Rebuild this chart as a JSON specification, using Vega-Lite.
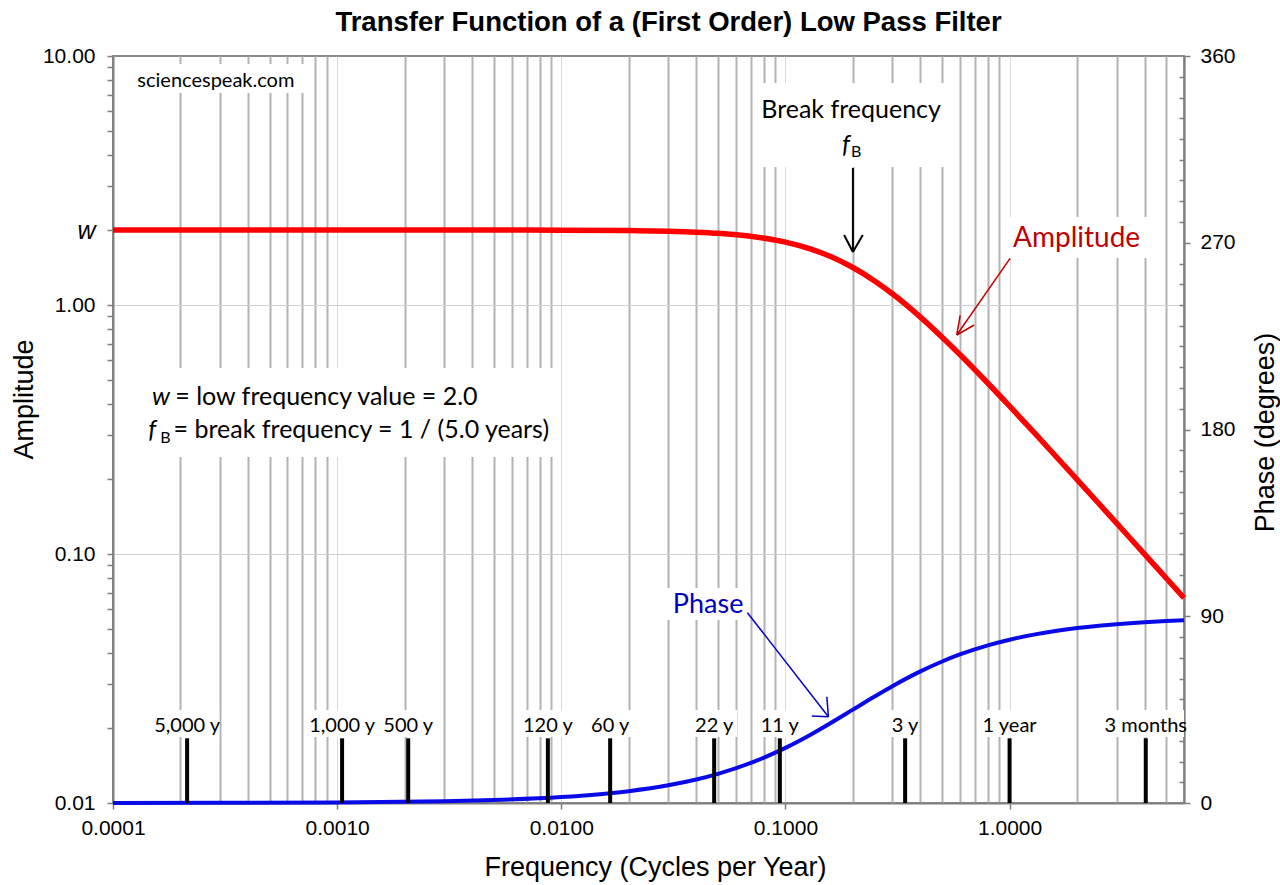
{
  "$schema": "https://vega.github.io/schema/vega-lite/v6.json",
  "width": 1071,
  "height": 747,
  "autosize": {"type": "none"},
  "padding": {"left": 113, "top": 56, "right": 96, "bottom": 82},
  "background": "white",
  "title": {
    "text": "Transfer Function of a  (First Order) Low Pass Filter",
    "font": "Liberation Sans",
    "fontSize": 27.5,
    "fontWeight": "bold",
    "color": "#000000",
    "anchor": "middle",
    "frame": "group",
    "baseline": "alphabetic",
    "dx": 20,
    "dy": 27,
    "offset": 14
  },
  "config": {
    "font": "Liberation Sans",
    "view": {"stroke": "#8c8c8c", "strokeWidth": 2},
    "axis": {
      "labelFont": "Liberation Sans",
      "labelFontSize": 21,
      "labelColor": "#000000",
      "titleFont": "Liberation Sans",
      "titleFontSize": 27,
      "titleFontWeight": "normal",
      "titleColor": "#000000",
      "domainColor": "#7f7f7f",
      "domainWidth": 2,
      "tickColor": "#7f7f7f",
      "tickWidth": 1.5,
      "labelOverlap": false,
      "labelFlush": false
    }
  },
  "datasets": {
    "curve": [
      {"f": 0.0001, "amp": 2.0, "phase": 0.029},
      {"f": 0.0003, "amp": 2.0, "phase": 0.086},
      {"f": 0.001, "amp": 2.0, "phase": 0.286},
      {"f": 0.003, "amp": 1.9998, "phase": 0.859},
      {"f": 0.005, "amp": 1.9994, "phase": 1.432},
      {"f": 0.01, "amp": 1.9975, "phase": 2.862},
      {"f": 0.02, "amp": 1.9901, "phase": 5.711},
      {"f": 0.03, "amp": 1.9779, "phase": 8.531},
      {"f": 0.04, "amp": 1.9612, "phase": 11.31},
      {"f": 0.05, "amp": 1.9403, "phase": 14.036},
      {"f": 0.07, "amp": 1.8877, "phase": 19.29},
      {"f": 0.1, "amp": 1.7889, "phase": 26.565},
      {"f": 0.13, "amp": 1.6769, "phase": 33.02},
      {"f": 0.16, "amp": 1.5617, "phase": 38.66},
      {"f": 0.2, "amp": 1.4142, "phase": 45.0},
      {"f": 0.25, "amp": 1.2494, "phase": 51.34},
      {"f": 0.3, "amp": 1.1094, "phase": 56.31},
      {"f": 0.4, "amp": 0.8944, "phase": 63.43},
      {"f": 0.5, "amp": 0.7428, "phase": 68.2},
      {"f": 0.6, "amp": 0.6325, "phase": 71.57},
      {"f": 0.8, "amp": 0.4851, "phase": 75.96},
      {"f": 1.0, "amp": 0.3922, "phase": 78.69},
      {"f": 1.3, "amp": 0.3041, "phase": 81.25},
      {"f": 1.6, "amp": 0.2481, "phase": 82.87},
      {"f": 2.0, "amp": 0.199, "phase": 84.29},
      {"f": 2.5, "amp": 0.1595, "phase": 85.43},
      {"f": 3.0, "amp": 0.133, "phase": 86.19},
      {"f": 4.0, "amp": 0.0999, "phase": 87.14},
      {"f": 5.0, "amp": 0.0799, "phase": 87.71},
      {"f": 6.0, "amp": 0.0666, "phase": 88.09}
    ],
    "boxes": [
      {"x1": 0.0001194, "x2": 0.0007508, "y1": 7.103, "y2": 9.288},
      {"x1": 0.0001323, "x2": 0.00949, "y1": 0.2453, "y2": 0.5585},
      {"x1": 0.07478, "x2": 0.5429, "y1": 3.583, "y2": 7.791},
      {"x1": 0.9548, "x2": 4.233, "y1": 1.545, "y2": 2.256},
      {"x1": 0.02907, "x2": 0.06962, "y1": 0.0543, "y2": 0.07305},
      {"x1": 0.0001482, "x2": 0.0002979, "y1": 0.01841, "y2": 0.02363},
      {"x1": 0.0007206, "x2": 0.001479, "y1": 0.01841, "y2": 0.02363},
      {"x1": 0.001589, "x2": 0.002796, "y1": 0.01841, "y2": 0.02363},
      {"x1": 0.006624, "x2": 0.01153, "y1": 0.01841, "y2": 0.02363},
      {"x1": 0.01318, "x2": 0.02071, "y1": 0.01841, "y2": 0.02363},
      {"x1": 0.03836, "x2": 0.0609, "y1": 0.01841, "y2": 0.02363},
      {"x1": 0.07553, "x2": 0.1187, "y1": 0.01841, "y2": 0.02363},
      {"x1": 0.2784, "x2": 0.3907, "y1": 0.01841, "y2": 0.02363},
      {"x1": 0.7386, "x2": 1.368, "y1": 0.01841, "y2": 0.02363},
      {"x1": 2.533, "x2": 6.0, "y1": 0.01841, "y2": 0.02363}
    ],
    "periods": [
      {"f": 0.0002141, "label": "5,000 y"},
      {"f": 0.001052, "label": "1,000 y"},
      {"f": 0.002075, "label": "500 y"},
      {"f": 0.008712, "label": "120 y"},
      {"f": 0.01652, "label": "60 y"},
      {"f": 0.04808, "label": "22 y"},
      {"f": 0.09441, "label": "11 y"},
      {"f": 0.342, "label": "3 y"},
      {"f": 1.0, "label": "1 year"},
      {"f": 4.051, "label": "3 months"}
    ],
    "arrows": [
      {"id": "break", "x1": 0.2, "y1": 3.549, "x2": 0.2, "y2": 1.633},
      {"id": "break", "x1": 0.1827, "y1": 1.91, "x2": 0.2, "y2": 1.633},
      {"id": "break", "x1": 0.2214, "y1": 1.91, "x2": 0.2, "y2": 1.633},
      {"id": "amp", "x1": 1.005, "y1": 1.54, "x2": 0.5813, "y2": 0.7578},
      {"id": "amp", "x1": 0.6947, "y1": 0.8312, "x2": 0.5813, "y2": 0.7578},
      {"id": "amp", "x1": 0.602, "y1": 0.9092, "x2": 0.5813, "y2": 0.7578},
      {"id": "phase", "x1": 0.06769, "y1": 0.05811, "x2": 0.1555, "y2": 0.02221},
      {"id": "phase", "x1": 0.1312, "y1": 0.02236, "x2": 0.1555, "y2": 0.02221},
      {"id": "phase", "x1": 0.153, "y1": 0.02672, "x2": 0.1555, "y2": 0.02221}
    ],
    "notes": [
      {"kind": "site", "x": 0.0001284, "y": 7.526, "text": "sciencespeak.com"},
      {"kind": "plainL", "x": 0.00018967, "y": 0.3967, "text": "= low frequency value = 2.0"},
      {"kind": "plainL", "x": 0.00018637, "y": 0.2915, "text": "= break frequency = 1 / (5.0 years)"},
      {"kind": "italL", "x": 0.00014928, "y": 0.3967, "text": "w"},
      {"kind": "italL", "x": 0.00014371, "y": 0.2915, "text": "f"},
      {"kind": "sub", "x": 0.00016255, "y": 0.2783, "text": "B"},
      {"kind": "sub", "x": 0.1963, "y": 3.92, "text": "B"},
      {"kind": "italR", "x": 0.1943, "y": 4.077, "text": "f"},
      {"kind": "plainC", "x": 0.1963, "y": 5.622, "text": "Break frequency"},
      {"kind": "ampl", "x": 1.99, "y": 1.714, "text": "Amplitude"},
      {"kind": "phase", "x": 0.04519, "y": 0.05778, "text": "Phase"}
    ]
  },
  "layer": [
    {
      "data": {"name": "boxes"},
      "mark": {"type": "rect", "fill": "white", "stroke": null},
      "encoding": {
        "x": {"field": "x1", "type": "quantitative", "scale": {"type": "log", "domain": [0.0001, 6], "nice": false}},
        "x2": {"field": "x2"},
        "y": {"field": "y1", "type": "quantitative", "scale": {"type": "log", "domain": [0.01, 10], "nice": false}, "axis": null},
        "y2": {"field": "y2"}
      }
    },
    {
      "data": {"name": "curve"},
      "mark": {"type": "line", "color": "#ff0000", "strokeWidth": 5.5, "interpolate": "monotone"},
      "encoding": {
        "x": {"field": "f", "type": "quantitative", "scale": {"type": "log", "domain": [0.0001, 6], "nice": false},
          "axis": {
            "title": "Frequency (Cycles per Year)",
            "values": [0.0001,0.0002,0.0003,0.0004,0.0005,0.0006,0.0007,0.0008,0.0009,0.001,0.002,0.003,0.004,0.005,0.006,0.007,0.008,0.009,0.01,0.02,0.03,0.04,0.05,0.06,0.07,0.08,0.09,0.1,0.2,0.3,0.4,0.5,0.6,0.7,0.8,0.9,1,2,3,4,5,6],
            "labelExpr": "indexof([0.0001,0.001,0.01,0.1,1], datum.value) >= 0 ? format(datum.value, '.4f') : ''",
            "grid": true,
            "gridColor": {"condition": {"test": "indexof([0.0001,0.001,0.01,0.1,1], datum.value) >= 0", "value": "#d9d9d9"}, "value": "#b3b3b3"},
            "gridWidth": {"condition": {"test": "indexof([0.0001,0.001,0.01,0.1,1], datum.value) >= 0", "value": 1}, "value": 2},
            "tickSize": 6,
            "tickOpacity": {"condition": {"test": "indexof([0.0001,0.001,0.01,0.1,1], datum.value) >= 0", "value": 1}, "value": 0},
            "labelPadding": 8,
            "titleX": 542,
            "titleY": 72,
            "titleBaseline": "alphabetic",
            "titleAlign": "center"
          }},
        "y": {"field": "amp", "type": "quantitative", "scale": {"type": "log", "domain": [0.01, 10], "nice": false},
          "axis": {
            "title": "Amplitude",
            "orient": "left",
            "values": [0.01,0.02,0.03,0.04,0.05,0.06,0.07,0.08,0.09,0.1,0.2,0.3,0.4,0.5,0.6,0.7,0.8,0.9,1,2,3,4,5,6,7,8,9,10],
            "labelExpr": "indexof([0.01,0.1,1,10], datum.value) >= 0 ? format(datum.value, '.2f') : (datum.value == 2 ? 'w' : '')",
            "labelFontStyle": {"condition": {"test": "datum.value == 2", "value": "italic"}, "value": "normal"},
            "labelFontSize": {"condition": {"test": "datum.value == 2", "value": 25}, "value": 21},
            "grid": true,
            "gridColor": "#d0d0d0",
            "gridWidth": 1,
            "gridOpacity": {"condition": {"test": "datum.value == 0.1 || datum.value == 1", "value": 1}, "value": 0},
            "tickSize": 6,
            "labelPadding": 12,
            "titleAngle": 270,
            "titleX": -81,
            "titleY": 343,
            "titleBaseline": "alphabetic",
            "titleAlign": "center"
          }}
      }
    },
    {
      "data": {"name": "curve"},
      "mark": {"type": "line", "color": "#0a0ae6", "strokeWidth": 4, "interpolate": "monotone"},
      "encoding": {
        "x": {"field": "f", "type": "quantitative", "scale": {"type": "log", "domain": [0.0001, 6], "nice": false}},
        "y": {"field": "phase", "type": "quantitative", "scale": {"type": "linear", "domain": [0, 360], "nice": false, "zero": true},
          "axis": {
            "title": "Phase (degrees)",
            "orient": "right",
            "values": [0,10,20,30,40,50,60,70,80,90,100,110,120,130,140,150,160,170,180,190,200,210,220,230,240,250,260,270,280,290,300,310,320,330,340,350,360],
            "labelExpr": "datum.value % 90 == 0 ? datum.label : ''",
            "tickSize": {"condition": {"test": "datum.value % 90 == 0", "value": 6}, "value": -5},
            "grid": false,
            "labelPadding": 10,
            "titleAngle": 270,
            "titleX": 89,
            "titleY": 376,
            "titleBaseline": "alphabetic",
            "titleAlign": "center"
          }}
      }
    },
    {
      "data": {"name": "periods"},
      "mark": {"type": "rule", "color": "#000000", "strokeWidth": 4},
      "encoding": {
        "x": {"field": "f", "type": "quantitative", "scale": {"type": "log", "domain": [0.0001, 6], "nice": false}},
        "y": {"datum": 0.01, "type": "quantitative", "scale": {"type": "log", "domain": [0.01, 10], "nice": false}, "axis": null},
        "y2": {"datum": 0.01819}
      }
    },
    {
      "data": {"name": "periods"},
      "mark": {"type": "text", "font": "Lato", "fontSize": 20, "align": "center", "baseline": "alphabetic", "color": "#000000"},
      "encoding": {
        "x": {"field": "f", "type": "quantitative", "scale": {"type": "log", "domain": [0.0001, 6], "nice": false}},
        "y": {"datum": 0.01933, "type": "quantitative", "scale": {"type": "log", "domain": [0.01, 10], "nice": false}, "axis": null},
        "text": {"field": "label"}
      }
    },
    {
      "data": {"name": "arrows"},
      "transform": [{"filter": "datum.id == 'break'"}],
      "mark": {"type": "rule", "color": "#000000", "strokeWidth": 2},
      "encoding": {
        "x": {"field": "x1", "type": "quantitative", "scale": {"type": "log", "domain": [0.0001, 6], "nice": false}},
        "y": {"field": "y1", "type": "quantitative", "scale": {"type": "log", "domain": [0.01, 10], "nice": false}, "axis": null},
        "x2": {"field": "x2"},
        "y2": {"field": "y2"}
      }
    },
    {
      "data": {"name": "arrows"},
      "transform": [{"filter": "datum.id == 'amp'"}],
      "mark": {"type": "rule", "color": "#c00000", "strokeWidth": 1.5},
      "encoding": {
        "x": {"field": "x1", "type": "quantitative", "scale": {"type": "log", "domain": [0.0001, 6], "nice": false}},
        "y": {"field": "y1", "type": "quantitative", "scale": {"type": "log", "domain": [0.01, 10], "nice": false}, "axis": null},
        "x2": {"field": "x2"},
        "y2": {"field": "y2"}
      }
    },
    {
      "data": {"name": "arrows"},
      "transform": [{"filter": "datum.id == 'phase'"}],
      "mark": {"type": "rule", "color": "#0000c0", "strokeWidth": 1.5},
      "encoding": {
        "x": {"field": "x1", "type": "quantitative", "scale": {"type": "log", "domain": [0.0001, 6], "nice": false}},
        "y": {"field": "y1", "type": "quantitative", "scale": {"type": "log", "domain": [0.01, 10], "nice": false}, "axis": null},
        "x2": {"field": "x2"},
        "y2": {"field": "y2"}
      }
    },
    {
      "data": {"name": "notes"},
      "transform": [{"filter": "datum.kind == 'site'"}],
      "mark": {"type": "text", "font": "Lato", "fontSize": 20, "align": "left", "baseline": "alphabetic", "color": "#000000"},
      "encoding": {
        "x": {"field": "x", "type": "quantitative", "scale": {"type": "log", "domain": [0.0001, 6], "nice": false}},
        "y": {"field": "y", "type": "quantitative", "scale": {"type": "log", "domain": [0.01, 10], "nice": false}, "axis": null},
        "text": {"field": "text"}
      }
    },
    {
      "data": {"name": "notes"},
      "transform": [{"filter": "datum.kind == 'plainL'"}],
      "mark": {"type": "text", "font": "Lato", "fontSize": 25, "align": "left", "baseline": "alphabetic", "color": "#000000"},
      "encoding": {
        "x": {"field": "x", "type": "quantitative", "scale": {"type": "log", "domain": [0.0001, 6], "nice": false}},
        "y": {"field": "y", "type": "quantitative", "scale": {"type": "log", "domain": [0.01, 10], "nice": false}, "axis": null},
        "text": {"field": "text"}
      }
    },
    {
      "data": {"name": "notes"},
      "transform": [{"filter": "datum.kind == 'italL'"}],
      "mark": {"type": "text", "font": "Lato", "fontSize": 25, "fontStyle": "italic", "align": "left", "baseline": "alphabetic", "color": "#000000"},
      "encoding": {
        "x": {"field": "x", "type": "quantitative", "scale": {"type": "log", "domain": [0.0001, 6], "nice": false}},
        "y": {"field": "y", "type": "quantitative", "scale": {"type": "log", "domain": [0.01, 10], "nice": false}, "axis": null},
        "text": {"field": "text"}
      }
    },
    {
      "data": {"name": "notes"},
      "transform": [{"filter": "datum.kind == 'italR'"}],
      "mark": {"type": "text", "font": "Lato", "fontSize": 25, "fontStyle": "italic", "align": "right", "baseline": "alphabetic", "color": "#000000"},
      "encoding": {
        "x": {"field": "x", "type": "quantitative", "scale": {"type": "log", "domain": [0.0001, 6], "nice": false}},
        "y": {"field": "y", "type": "quantitative", "scale": {"type": "log", "domain": [0.01, 10], "nice": false}, "axis": null},
        "text": {"field": "text"}
      }
    },
    {
      "data": {"name": "notes"},
      "transform": [{"filter": "datum.kind == 'sub'"}],
      "mark": {"type": "text", "font": "Lato", "fontSize": 16, "align": "left", "baseline": "alphabetic", "color": "#000000"},
      "encoding": {
        "x": {"field": "x", "type": "quantitative", "scale": {"type": "log", "domain": [0.0001, 6], "nice": false}},
        "y": {"field": "y", "type": "quantitative", "scale": {"type": "log", "domain": [0.01, 10], "nice": false}, "axis": null},
        "text": {"field": "text"}
      }
    },
    {
      "data": {"name": "notes"},
      "transform": [{"filter": "datum.kind == 'plainC'"}],
      "mark": {"type": "text", "font": "Lato", "fontSize": 25, "align": "center", "baseline": "alphabetic", "color": "#000000"},
      "encoding": {
        "x": {"field": "x", "type": "quantitative", "scale": {"type": "log", "domain": [0.0001, 6], "nice": false}},
        "y": {"field": "y", "type": "quantitative", "scale": {"type": "log", "domain": [0.01, 10], "nice": false}, "axis": null},
        "text": {"field": "text"}
      }
    },
    {
      "data": {"name": "notes"},
      "transform": [{"filter": "datum.kind == 'ampl'"}],
      "mark": {"type": "text", "font": "Lato", "fontSize": 28, "align": "center", "baseline": "alphabetic", "color": "#c00000"},
      "encoding": {
        "x": {"field": "x", "type": "quantitative", "scale": {"type": "log", "domain": [0.0001, 6], "nice": false}},
        "y": {"field": "y", "type": "quantitative", "scale": {"type": "log", "domain": [0.01, 10], "nice": false}, "axis": null},
        "text": {"field": "text"}
      }
    },
    {
      "data": {"name": "notes"},
      "transform": [{"filter": "datum.kind == 'phase'"}],
      "mark": {"type": "text", "font": "Lato", "fontSize": 27, "align": "center", "baseline": "alphabetic", "color": "#0000c0"},
      "encoding": {
        "x": {"field": "x", "type": "quantitative", "scale": {"type": "log", "domain": [0.0001, 6], "nice": false}},
        "y": {"field": "y", "type": "quantitative", "scale": {"type": "log", "domain": [0.01, 10], "nice": false}, "axis": null},
        "text": {"field": "text"}
      }
    }
  ],
  "resolve": {"scale": {"y": "independent"}, "axis": {"y": "independent"}}
}
